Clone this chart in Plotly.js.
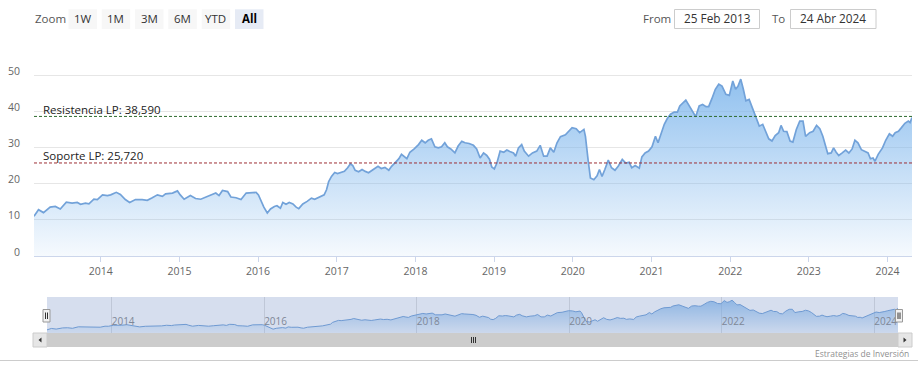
<!DOCTYPE html>
<html><head><meta charset="utf-8">
<script src="https://cdn.plot.ly/plotly-3.0.1.min.js"></script>
<style>html,body{margin:0;padding:0;background:#fff;overflow:hidden}#chart{width:918px;height:372px}</style>
</head><body><div id="chart"></div>
<script>
// ---------- DATA ----------
const dates = [
"2013-02-25","2013-03-18","2013-04-10","2013-05-11","2013-06-04","2013-06-27","2013-07-25","2013-08-21","2013-09-14","2013-09-29",
"2013-10-22","2013-11-07","2013-11-30","2013-12-16","2014-01-09","2014-02-01","2014-02-16","2014-03-14","2014-04-02","2014-04-25",
"2014-05-15","2014-06-11","2014-07-12","2014-08-05","2014-08-28","2014-09-21","2014-10-14","2014-10-29","2014-11-30","2014-12-23",
"2015-01-05","2015-01-23","2015-02-21","2015-03-17","2015-04-10","2015-05-03","2015-05-26","2015-06-19","2015-07-04","2015-07-20",
"2015-08-13","2015-08-28","2015-09-21","2015-10-14","2015-11-07","2015-11-30","2015-12-23","2016-01-03","2016-01-16","2016-01-28",
"2016-02-13","2016-02-28","2016-03-17","2016-03-29","2016-04-14","2016-04-25","2016-05-10","2016-05-25","2016-06-11","2016-06-26",
"2016-07-08","2016-07-27","2016-08-16","2016-09-05","2016-09-20","2016-10-06","2016-10-21","2016-11-03","2016-11-14","2016-11-24",
"2016-12-07","2016-12-22","2017-01-04","2017-01-19","2017-02-05","2017-02-20","2017-03-05","2017-03-16","2017-03-27","2017-04-12",
"2017-04-28","2017-05-13","2017-05-28","2017-06-14","2017-06-29","2017-07-11","2017-07-26","2017-08-12","2017-08-30","2017-09-12",
"2017-09-30","2017-10-16","2017-10-28","2017-11-10","2017-11-22","2017-12-06","2017-12-26","2018-01-15","2018-01-30","2018-02-15",
"2018-03-01","2018-03-16","2018-04-01","2018-04-17","2018-05-02","2018-05-17","2018-05-29","2018-06-14","2018-07-03","2018-07-18",
"2018-08-04","2018-08-19","2018-09-07","2018-09-27","2018-10-12","2018-10-28","2018-11-13","2018-11-28","2018-12-11","2018-12-21",
"2019-01-02","2019-01-14","2019-01-29","2019-02-15","2019-03-01","2019-03-15","2019-04-01","2019-04-11","2019-04-24","2019-05-09",
"2019-05-21","2019-06-10","2019-06-28","2019-07-18","2019-08-03","2019-08-19","2019-09-04","2019-09-19","2019-10-05","2019-10-20",
"2019-11-05","2019-11-28","2019-12-14","2019-12-29","2020-01-17","2020-02-02","2020-02-22","2020-02-29","2020-03-12","2020-03-23",
"2020-04-08","2020-04-23","2020-05-04","2020-05-16","2020-05-29","2020-06-14","2020-06-29","2020-07-15","2020-07-30","2020-08-18",
"2020-09-03","2020-09-19","2020-10-01","2020-10-17","2020-11-05","2020-11-17","2020-12-02","2020-12-18","2021-01-03","2021-01-19",
"2021-01-31","2021-02-14","2021-03-01","2021-03-15","2021-03-30","2021-04-16","2021-05-01","2021-05-12","2021-05-27","2021-06-09",
"2021-06-25","2021-07-10","2021-07-25","2021-08-10","2021-08-26","2021-09-11","2021-09-23","2021-10-08","2021-10-24","2021-11-09",
"2021-11-24","2021-12-12","2021-12-28","2022-01-13","2022-01-26","2022-02-06","2022-02-19","2022-03-03","2022-03-15","2022-03-30",
"2022-04-15","2022-04-30","2022-05-16","2022-06-01","2022-06-16","2022-06-29","2022-07-14","2022-07-29","2022-08-14","2022-08-25",
"2022-09-06","2022-09-21","2022-10-06","2022-10-19","2022-11-04","2022-11-20","2022-12-05","2022-12-17","2023-01-05","2023-01-21",
"2023-02-06","2023-02-21","2023-03-07","2023-03-19","2023-03-30","2023-04-15","2023-04-26","2023-05-08","2023-05-20","2023-06-05",
"2023-06-21","2023-07-06","2023-07-21","2023-08-03","2023-08-17","2023-09-02","2023-09-18","2023-10-03","2023-10-14","2023-10-26",
"2023-11-04","2023-11-19","2023-12-09","2023-12-24","2024-01-10","2024-01-25","2024-02-06","2024-02-21","2024-03-06","2024-03-22",
"2024-04-07","2024-04-15","2024-04-24"
];
const prices = [
11.0,12.8,12.0,13.5,13.7,13.0,14.9,14.6,14.8,14.3,
14.6,14.4,15.7,15.6,16.9,16.7,16.9,17.6,17.0,15.6,
14.8,15.6,15.6,15.4,16.1,16.9,16.5,17.2,17.4,18.0,
16.9,15.7,16.7,15.9,15.7,16.3,17.0,17.4,16.7,18.1,
17.8,16.3,16.1,15.6,17.4,17.6,17.6,16.9,15.1,13.5,
11.9,13.0,13.7,13.9,13.2,14.8,14.3,14.8,14.4,13.5,
13.1,14.4,15.1,16.0,15.7,16.1,16.7,16.9,18.3,20.6,
22.0,23.1,22.8,23.1,23.4,24.4,25.5,25.0,23.7,23.3,
23.9,23.4,23.0,23.7,24.4,24.8,24.2,24.5,23.7,24.8,
25.9,26.9,28.1,27.4,26.9,28.7,29.6,30.8,32.0,31.3,
32.0,32.4,30.2,29.9,30.2,31.3,30.2,29.6,28.5,30.4,
31.7,31.3,31.1,30.6,29.6,27.1,28.5,27.8,26.7,24.6,
24.1,25.7,29.0,28.7,29.3,28.9,28.5,27.6,29.9,30.8,
29.0,27.6,28.5,29.0,30.6,27.6,27.6,29.9,28.7,31.3,
33.0,33.5,34.5,35.5,35.2,34.1,35.0,33.1,26.7,21.6,
21.1,22.2,23.9,22.0,23.9,26.5,24.4,23.7,24.8,26.7,
25.7,25.9,24.4,25.0,24.3,27.4,28.5,29.0,30.2,33.1,
31.3,34.1,36.4,38.0,39.2,39.8,39.8,41.5,42.4,43.1,
41.5,39.8,38.5,41.5,41.9,41.3,41.3,43.5,46.1,47.5,
47.0,44.7,44.4,48.4,46.1,46.9,48.9,46.1,42.9,43.3,
40.7,38.2,35.9,36.4,34.5,32.4,31.8,33.3,34.1,36.1,
34.5,34.4,31.8,31.5,35.0,37.3,37.3,33.1,34.1,34.5,
36.1,35.2,33.1,30.8,28.3,28.5,29.9,28.7,27.8,28.5,
29.3,28.5,29.6,32.0,31.3,29.4,29.0,28.5,26.9,27.1,
26.2,28.1,29.9,32.0,33.8,33.1,34.1,34.5,35.5,36.7,
37.3,36.9,38.3
];
const resistance = 38.59;
const support = 25.72;
const resistanceLabel = "Resistencia LP: 38,590";
const supportLabel = "Soporte LP: 25,720";
const yGridVals = [0,10,20,30,40,50,60];
const yLabelVals = [0,10,20,30,40,50];
const zoomButtons = ["1W","1M","3M","6M","YTD","All"];
const activeButton = "All";
const fromText = "25 Feb 2013";
const toText = "24 Abr 2024";
const creditText = "Estrategias de Inversión";

// ---------- LAYOUT HELPERS ----------
const W = 918, H = 372;
const px = x => x / W;
const py = y => 1 - y / H;
const FONT = "Open Sans, Liberation Sans, sans-serif";

const lineColor = "#72a2d9";
const grad = {type:"vertical", start:0, stop:54,
  colorscale:[[0,"rgba(124,181,236,0.07)"],[1,"rgba(124,181,236,0.92)"]]};

const traces = [
  {x:dates, y:prices, type:"scatter", mode:"lines", xaxis:"x", yaxis:"y",
   line:{color:lineColor, width:1.7}, fill:"tozeroy", fillgradient:grad, hoverinfo:"skip"},
  {x:dates, y:prices, type:"scatter", mode:"lines", xaxis:"x2", yaxis:"y2",
   line:{color:lineColor, width:1}, fill:"tozeroy",
   fillgradient:{type:"vertical", start:7, stop:50,
     colorscale:[[0,"rgba(124,181,236,0.1)"],[1,"rgba(124,181,236,0.75)"]]}, hoverinfo:"skip"}
];

const shapes = [];
const annotations = [];

// y-axis labels (placed slightly above their grid lines, as in the original)
yLabelVals.forEach(v => annotations.push({xref:"paper", x:px(22), xanchor:"right", yref:"y", y:v,
  yanchor:"middle", yshift:4.5, text:String(v), showarrow:false, font:{family:FONT, size:10.5, color:"#666"}}));

// level lines
shapes.push({type:"line", xref:"x domain", x0:0, x1:1, yref:"y", y0:resistance, y1:resistance,
  line:{color:"#2f6b2f", width:1, dash:"3px,2px"}});
shapes.push({type:"line", xref:"x domain", x0:0, x1:1, yref:"y", y0:support, y1:support,
  line:{color:"#9e2f35", width:1, dash:"3px,2px"}});
annotations.push({xref:"x domain", x:(41-34)/878, yref:"y", y:resistance, yanchor:"bottom", xanchor:"left",
  yshift:-2.5, text:resistanceLabel, showarrow:false, font:{family:FONT, size:11.5, color:"#222"}});
annotations.push({xref:"x domain", x:(41-34)/878, yref:"y", y:support, yanchor:"bottom", xanchor:"left",
  yshift:-2.5, text:supportLabel, showarrow:false, font:{family:FONT, size:11.5, color:"#222"}});

// range selector
annotations.push({xref:"paper", yref:"paper", x:px(33), y:py(18.5), xanchor:"left", yanchor:"middle",
  text:"Zoom", showarrow:false, font:{family:FONT, size:11.5, color:"#555"}});
const btnX = [68.5, 101.7, 135, 168.3, 201.7, 235];
zoomButtons.forEach((b, i) => {
  const active = b === activeButton;
  shapes.push({type:"rect", xref:"paper", yref:"paper", x0:px(btnX[i]), x1:px(btnX[i]+28.5),
    y0:py(29), y1:py(9.3), fillcolor: active ? "#e6ebf5" : "#f7f7f7", line:{width:0}, layer:"above"});
  annotations.push({xref:"paper", yref:"paper", x:px(btnX[i]+14.25), y:py(18.8), xanchor:"center", yanchor:"middle",
    text: active ? "<b>"+b+"</b>" : b, showarrow:false, font:{family:FONT, size:11.5, color: active ? "#000" : "#333"}});
});

// from / to inputs
annotations.push({xref:"paper", yref:"paper", x:px(641), y:py(18.5), xanchor:"left", yanchor:"middle",
  text:"From", showarrow:false, font:{family:FONT, size:11.5, color:"#555"}});
shapes.push({type:"rect", xref:"paper", yref:"paper", x0:px(674.5), x1:px(759.5), y0:py(28.5), y1:py(9.5),
  fillcolor:"#fff", line:{color:"#cccccc", width:1}, layer:"above"});
annotations.push({xref:"paper", yref:"paper", x:px(717), y:py(18.5), xanchor:"center", yanchor:"middle",
  text:fromText, showarrow:false, font:{family:FONT, size:11.8, color:"#333"}});
annotations.push({xref:"paper", yref:"paper", x:px(769.5), y:py(18.5), xanchor:"left", yanchor:"middle",
  text:"To", showarrow:false, font:{family:FONT, size:11.5, color:"#555"}});
shapes.push({type:"rect", xref:"paper", yref:"paper", x0:px(790.5), x1:px(876), y0:py(28.5), y1:py(9.5),
  fillcolor:"#fff", line:{color:"#cccccc", width:1}, layer:"above"});
annotations.push({xref:"paper", yref:"paper", x:px(833), y:py(18.5), xanchor:"center", yanchor:"middle",
  text:toText, showarrow:false, font:{family:FONT, size:11.8, color:"#333"}});

// navigator mask
shapes.push({type:"rect", xref:"x2 domain", yref:"y2 domain", x0:0, x1:1, y0:0, y1:1,
  fillcolor:"rgba(102,133,194,0.27)", line:{width:0}, layer:"above"});
// navigator handles
[[43, 50], [895.5, 902.5]].forEach(([a, b]) => {
  shapes.push({type:"rect", xref:"paper", yref:"paper", x0:px(a), x1:px(b), y0:py(322), y1:py(309.5),
    fillcolor:"#f2f2f2", line:{color:"#999999", width:1}, layer:"above"});
  const m = (a + b) / 2;
  [m-1, m+1].forEach(v => shapes.push({type:"line", xref:"paper", yref:"paper", x0:px(v), x1:px(v),
    y0:py(319), y1:py(312.5), line:{color:"#333", width:1}, layer:"above"}));
});

// scrollbar
shapes.push({type:"rect", xref:"paper", yref:"paper", x0:px(33), x1:px(912), y0:py(347), y1:py(333),
  fillcolor:"#f2f2f2", line:{width:0}, layer:"above"});
shapes.push({type:"rect", xref:"paper", yref:"paper", x0:px(47), x1:px(898), y0:py(347), y1:py(333),
  fillcolor:"#cccccc", line:{width:0}, layer:"above"});
shapes.push({type:"rect", xref:"paper", yref:"paper", x0:px(33), x1:px(47), y0:py(347), y1:py(333),
  fillcolor:"#e6e6e6", line:{color:"#cccccc", width:1}, layer:"above"});
shapes.push({type:"rect", xref:"paper", yref:"paper", x0:px(898), x1:px(912), y0:py(347), y1:py(333),
  fillcolor:"#e6e6e6", line:{color:"#cccccc", width:1}, layer:"above"});
shapes.push({type:"path", xref:"paper", yref:"paper",
  path:`M ${px(41.5)} ${py(337.5)} L ${px(38.5)} ${py(340)} L ${px(41.5)} ${py(342.5)} Z`,
  fillcolor:"#333", line:{width:0}, layer:"above"});
shapes.push({type:"path", xref:"paper", yref:"paper",
  path:`M ${px(903.5)} ${py(337.5)} L ${px(906.5)} ${py(340)} L ${px(903.5)} ${py(342.5)} Z`,
  fillcolor:"#333", line:{width:0}, layer:"above"});
[471.5, 473.5, 475.5].forEach(v => shapes.push({type:"line", xref:"paper", yref:"paper", x0:px(v), x1:px(v),
  y0:py(343), y1:py(337), line:{color:"#333", width:1}, layer:"above"}));

// bottom border
shapes.push({type:"line", xref:"paper", yref:"paper", x0:0, x1:1, y0:py(360.5), y1:py(360.5),
  line:{color:"#cccccc", width:1}});

// credit
annotations.push({xref:"paper", yref:"paper", x:px(911), y:py(353), xanchor:"right", yanchor:"middle",
  text:creditText, showarrow:false, font:{family:FONT, size:8.5, color:"#909090"}});

const layout = {
  width:W, height:H, margin:{l:0, r:0, t:0, b:0},
  paper_bgcolor:"#fff", plot_bgcolor:"rgba(0,0,0,0)",
  showlegend:false, hovermode:false, dragmode:false,
  font:{family:FONT},
  xaxis:{domain:[px(34), px(912)], anchor:"y", type:"date", range:[dates[0], dates[dates.length-1]],
    tick0:"2014-01-01", dtick:"M12", tickformat:"%Y", ticks:"outside", ticklen:5, tickcolor:"#ccd6eb",
    showline:true, linecolor:"#ccd6eb", linewidth:1, showgrid:false, zeroline:false,
    tickfont:{family:FONT, size:10.5, color:"#666"}, fixedrange:true},
  yaxis:{domain:[py(256), py(39)], anchor:"x", range:[0,60], tickvals:yGridVals,
    showticklabels:false, showgrid:true, gridcolor:"#e6e6e6", gridwidth:1, zeroline:false, ticks:"", showline:false,
    fixedrange:true},
  xaxis2:{domain:[px(47), px(898)], anchor:"y2", type:"date", range:[dates[0], dates[dates.length-1]],
    tick0:"2014-01-01", dtick:"M24", tickformat:"%Y", ticks:"", ticklabelposition:"inside right",
    showgrid:true, gridcolor:"#e0e0e0", showline:false, zeroline:false,
    tickfont:{family:FONT, size:10, color:"#888"}, fixedrange:true},
  yaxis2:{domain:[py(333), py(297)], anchor:"x2", range:[7,53], visible:false, fixedrange:true},
  shapes:shapes, annotations:annotations
};

Plotly.newPlot("chart", traces, layout, {displayModeBar:false, staticPlot:true});
</script></body></html>
